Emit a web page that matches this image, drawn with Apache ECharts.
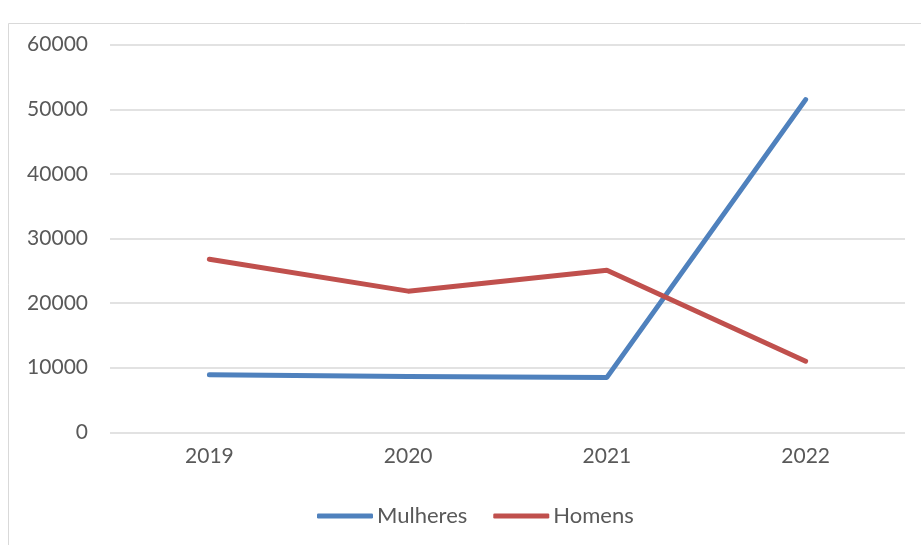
<!DOCTYPE html>
<html>
<head>
<meta charset="utf-8">
<script src="https://cdn.jsdelivr.net/npm/echarts@6/dist/echarts.min.js"></script>
<style>
html,body{margin:0;padding:0;background:#fff;}
#chart{width:921px;height:545px;}
</style>
</head>
<body>
<div id="chart"></div>
<script>
const categories = ['2019', '2020', '2021', '2022'];
const mulheres = [8900, 8650, 8500, 51500];
const homens = [26800, 21850, 25100, 11000];
const yTicks = { min: 0, max: 60000, interval: 10000 };

const chart = echarts.init(document.getElementById('chart'), null, { renderer: 'canvas' });
const font = 'Lato, "Open Sans", sans-serif';
chart.setOption({
  animation: false,
  backgroundColor: '#ffffff',
  graphic: [{
    type: 'rect',
    silent: true,
    shape: { x: 8.5, y: 23.5, width: 1000, height: 1000 },
    style: { fill: 'none', stroke: '#d9d9d9', lineWidth: 1 }
  }],
  grid: { left: 110, right: 16, top: 44.7, bottom: 112.7, containLabel: false },
  xAxis: {
    type: 'category',
    data: categories,
    boundaryGap: true,
    axisLine: { show: false },
    axisTick: { show: false },
    axisLabel: { color: '#595959', fontSize: 21, fontFamily: font, margin: 13 }
  },
  yAxis: {
    type: 'value',
    min: yTicks.min,
    max: yTicks.max,
    interval: yTicks.interval,
    axisLine: { show: false },
    axisTick: { show: false },
    axisLabel: { color: '#595959', fontSize: 21, fontFamily: font, margin: 22, formatter: v => String(v) },
    splitLine: { lineStyle: { color: '#d9d9d9', width: 1.5 } }
  },
  legend: {
    bottom: 13,
    left: 312,
    itemWidth: 56,
    itemHeight: 5,
    itemGap: 26,
    icon: 'roundRect',
    textStyle: { color: '#595959', fontSize: 22, fontFamily: font, padding: [0, 0, 0, -1] },
    data: ['Mulheres', 'Homens']
  },
  series: [
    {
      name: 'Mulheres', type: 'line', data: mulheres, symbol: 'none',
      itemStyle: { color: '#4f81bd' },
      lineStyle: { color: '#4f81bd', width: 5, cap: 'round', join: 'round' }
    },
    {
      name: 'Homens', type: 'line', data: homens, symbol: 'none',
      itemStyle: { color: '#c0504d' },
      lineStyle: { color: '#c0504d', width: 5, cap: 'round', join: 'round' }
    }
  ]
});
</script>
</body>
</html>
